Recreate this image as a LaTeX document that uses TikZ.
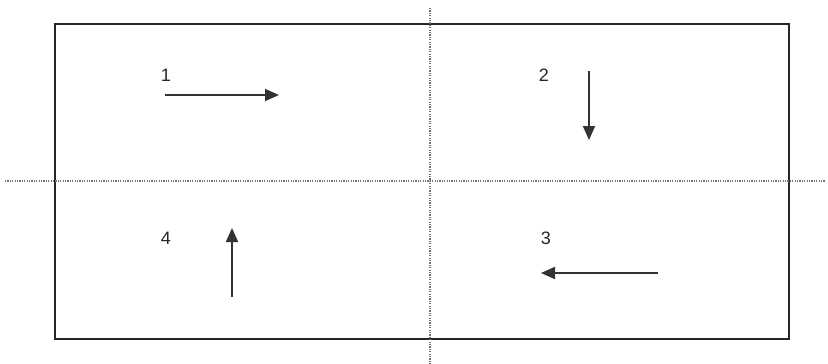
\documentclass[tikz,border=0pt]{standalone}
\usepackage{fontspec}
\setmainfont{Liberation Sans}
\usetikzlibrary{arrows.meta}
\begin{document}
\begin{tikzpicture}[x=1pt,y=-1pt,
  frame/.style={draw=black!85,line width=2pt},
  guide/.style={draw=black!55,line width=1.6pt,dash pattern=on 1.2pt off 1.2pt},
  flow/.style={draw=black!80,line width=1.8pt,-{Triangle[length=14pt,width=12pt]}},
  num/.style={font=\fontsize{18}{18}\selectfont,text=black!85,inner sep=0pt}]
\useasboundingbox (0,0) rectangle (828,364);
\node[frame,minimum width=734pt,minimum height=315pt,inner sep=0pt,anchor=north west] (box) at (54,23) {};
\coordinate (vt) at (430,8);
\coordinate (vb) at (430,364);
\coordinate (hl) at (5,181);
\coordinate (hr) at (825,181);
\draw[guide] (vt) -- (vb);
\draw[guide] (hl) -- (hr);
\node[num] (n1) at (166,75) {1};
\node[num] (n2) at (544,75) {2};
\node[num] (n3) at (546,238) {3};
\node[num] (n4) at (166,238) {4};
\coordinate (a1s) at (165,95);
\coordinate (a1e) at (279,95);
\coordinate (a2s) at (589,71);
\coordinate (a2e) at (589,140);
\coordinate (a3s) at (658,273);
\coordinate (a3e) at (541,273);
\coordinate (a4s) at (232,297);
\coordinate (a4e) at (232,228);
\draw[flow] (a1s) -- (a1e);
\draw[flow] (a2s) -- (a2e);
\draw[flow] (a3s) -- (a3e);
\draw[flow] (a4s) -- (a4e);
\end{tikzpicture}
\end{document}
